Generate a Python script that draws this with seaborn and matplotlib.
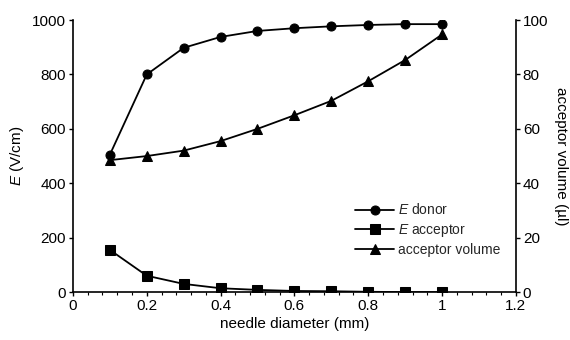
import matplotlib
matplotlib.use("Agg")
import matplotlib.pyplot as plt
import seaborn as sns
import pandas as pd
from matplotlib.ticker import MultipleLocator

diameter = [0.1, 0.2, 0.3, 0.4, 0.5, 0.6, 0.7, 0.8, 0.9, 1.0]
e_donor = [505, 800, 898, 938, 960, 970, 977, 982, 985, 985]
e_acceptor = [155, 60, 30, 14, 8, 4, 3, 1, 0, 0]
acceptor_volume = [48.5, 50, 52, 55.5, 60, 65, 70.3, 77.5, 85.3, 94.7]

sns.set_theme(style="ticks")
plt.rcParams['font.family'] = ['Liberation Sans', 'DejaVu Sans']
plt.rcParams['mathtext.fontset'] = 'custom'
plt.rcParams['mathtext.it'] = 'Liberation Sans:italic'
plt.rcParams['mathtext.rm'] = 'Liberation Sans'

df = pd.DataFrame({"d": diameter, "donor": e_donor, "acc": e_acceptor, "vol": acceptor_volume})

fig = plt.figure(figsize=(5.7, 3.4), dpi=100)
ax = fig.add_axes([0.128, 0.141, 0.777, 0.8])
ax2 = ax.twinx()

kw = dict(color="black", linewidth=1.3, markersize=6.5, markeredgecolor="black")
sns.lineplot(data=df, x="d", y="donor", ax=ax, marker="o", label="$E$ donor", legend=False, **kw)
sns.lineplot(data=df, x="d", y="acc", ax=ax, marker="s", label="$E$ acceptor", legend=False, **kw)
sns.lineplot(data=df, x="d", y="vol", ax=ax2, marker="^", label="acceptor volume", legend=False, **kw)

ax.set_xlim(0, 1.2)
ax.set_ylim(0, 1000)
ax2.set_ylim(0, 100)
ax.xaxis.set_minor_locator(MultipleLocator(0.04))
ax.yaxis.set_major_locator(MultipleLocator(200))
ax2.yaxis.set_major_locator(MultipleLocator(20))
ax.set_xticks([0, 0.2, 0.4, 0.6, 0.8, 1.0, 1.2])
ax.set_xticklabels(["0", "0.2", "0.4", "0.6", "0.8", "1", "1.2"])

for a in (ax, ax2):
    a.spines["top"].set_visible(False)
    for s in a.spines.values():
        s.set_color("black")
        s.set_linewidth(1.2)
    a.tick_params(axis="both", which="major", length=3, width=1, colors="black", labelsize=11, pad=2)
    a.tick_params(axis="both", which="minor", length=2, width=0.8, colors="black")
ax.spines["right"].set_visible(False)
ax2.spines["left"].set_visible(False)
ax2.spines["bottom"].set_visible(False)

ax.set_xlabel("needle diameter (mm)", fontsize=11, color="black", labelpad=3)
ax.set_ylabel("$E$ (V/cm)", fontsize=11, color="black", labelpad=4)
ax2.set_ylabel("acceptor volume (µl)", fontsize=11, color="black", rotation=270, labelpad=14)

h1, l1 = ax.get_legend_handles_labels()
h2, l2 = ax2.get_legend_handles_labels()
leg = ax2.legend(h1 + h2, l1 + l2, loc="upper left", bbox_to_anchor=(0.625, 0.35),
                 frameon=False, fontsize=10, handlelength=2.8, handletextpad=0.3,
                 labelspacing=0.3, borderaxespad=0)

fig.savefig("out.png", dpi=100)
